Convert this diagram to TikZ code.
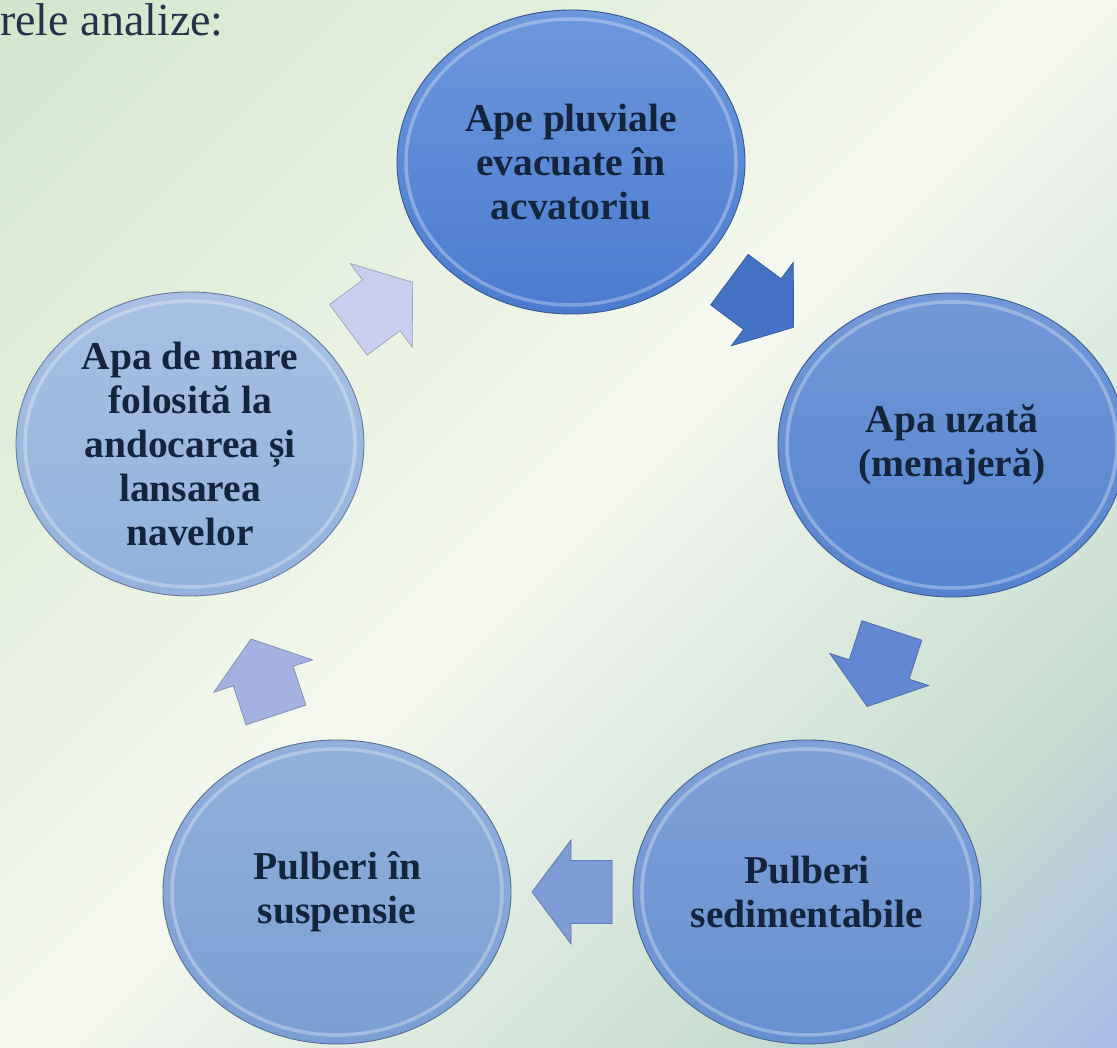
\documentclass[tikz,border=0pt]{standalone}
\usepackage{fontspec}
\setmainfont{Liberation Serif}
\usetikzlibrary{shapes.geometric,calc}
\definecolor{bgA}{HTML}{D2E6CC}
\definecolor{bgB}{HTML}{F5F8EF}
\definecolor{bgC}{HTML}{C6DCD0}
\definecolor{bgD}{HTML}{A8BCE7}
\definecolor{txtcol}{HTML}{14243C}
\definecolor{titlecol}{HTML}{25324A}
\definecolor{cTopA}{HTML}{6E98DC}
\definecolor{cTopB}{HTML}{4A7BCF}
\definecolor{cRightA}{HTML}{7398D8}
\definecolor{cRightB}{HTML}{5584CF}
\definecolor{cBrA}{HTML}{80A0D8}
\definecolor{cBrB}{HTML}{6690D2}
\definecolor{cBlA}{HTML}{93B0DB}
\definecolor{cBlB}{HTML}{7A9ED3}
\definecolor{cLeftA}{HTML}{A8C0E3}
\definecolor{cLeftB}{HTML}{93B1DC}
\definecolor{arA}{HTML}{4472C4}
\definecolor{arB}{HTML}{6487D2}
\definecolor{arC}{HTML}{7E9CD8}
\definecolor{arD}{HTML}{A3B2E0}
\definecolor{arE}{HTML}{C9CEEE}
\pgfdeclarehorizontalshading{bgshade}{100bp}{color(0bp)=(bgA); color(14.6bp)=(bgA); color(50bp)=(bgB); color(73.4bp)=(bgC); color(85.4bp)=(bgD); color(100bp)=(bgD)}
\begin{document}
\begin{tikzpicture}[x=1pt,y=1pt,
  circ/.style 2 args={ellipse, minimum width=348pt, minimum height=304pt, inner sep=0pt,
    align=center, text=txtcol, font=\bfseries\fontsize{39.5}{44}\selectfont,
    top color=#1, bottom color=#2, draw=#2!70!black, line width=0.9pt},
  rim/.style={white, opacity=0.3, line width=3.5pt},
  pics/blockarrow/.style={code={%
    \filldraw[fill=#1, draw=#1!78!black, line width=0.7pt, line join=miter]
      (-40,31.5) -- (1,31.5) -- (1,52) -- (40,0) -- (1,-52) -- (1,-31.5) -- (-40,-31.5) -- cycle;}}]
\useasboundingbox (0,0) rectangle (1117,1048);
\clip (0,0) rectangle (1117,1048);
\shade[shading=bgshade, shading angle=-45] (0,0) rectangle (1117,1048);

\node[anchor=base west, inner sep=0pt, text=titlecol, font=\fontsize{46}{56}\selectfont] (title) at (0,1012) {rele analize:};

\node[circ={cTopA}{cTopB}] (top) at (571,886) {Ape pluviale\\evacuate în\\acvatoriu};
\node[circ={cRightA}{cRightB}] (right) at (952,603) {Apa uzată\\(menajeră)};
\node[circ={cBrA}{cBrB}] (br) at (807,156) {Pulberi\\sedimentabile};
\node[circ={cBlA}{cBlB}] (bl) at (337,156) {Pulberi în\\suspensie};
\node[circ={cLeftA}{cLeftB}] (left) at (190,604) {Apa de mare\\folosită la\\andocarea și\\lansarea\\navelor};

\foreach \n in {top,right,br,bl,left}
  \draw[rim] (\n.center) ellipse [x radius=165pt, y radius=143pt];

\foreach \a/\b/\c/\s in {top/right/arA/0, right/br/arB/0, br/bl/arC/0, bl/left/arD/-9, left/top/arE/-3}
  \path let \p1=($(\b)-(\a)$), \n1={atan2(\y1,\x1)} in
    ($(\a)!0.5!(\b)+(0,\s)$) pic[rotate=\n1] {blockarrow=\c};
\end{tikzpicture}
\end{document}
